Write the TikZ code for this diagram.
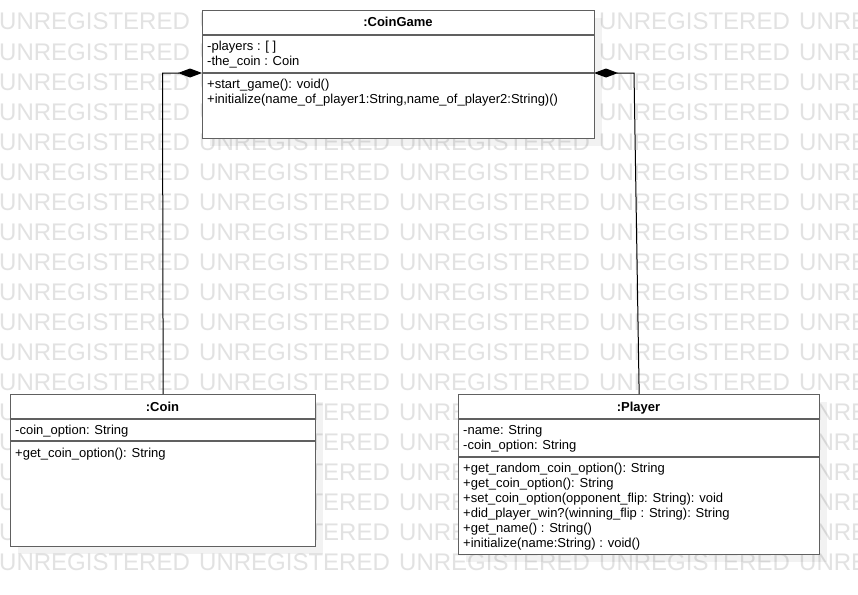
\documentclass[tikz,border=0pt]{standalone}
\usepackage{fontspec}
\setmainfont{Liberation Sans}
\usetikzlibrary{arrows.meta}
\definecolor{wm}{RGB}{226,226,226}
\definecolor{edge}{RGB}{96,96,96}
\tikzset{
  umlbox/.style={draw=edge, line width=1.3pt, fill=white, anchor=north west, inner sep=0pt},
  boxshadow/.style={fill=black, fill opacity=0.05, draw=none},
  sepline/.style={draw=edge, line width=1.3pt},
  umltitle/.style={font=\fontsize{13}{15}\selectfont\bfseries, anchor=base, inner sep=0pt},
  umltext/.style={font=\fontsize{13}{15}\selectfont, anchor=base west, inner sep=0pt},
  watermark/.style={font=\fontsize{24}{24}\selectfont, text=wm, anchor=base west, inner sep=0pt},
  compo/.style={line width=1pt, {Diamond[length=24pt,width=9pt,fill=black]}-},
}
\begin{document}
\begin{tikzpicture}[x=1pt,y=-1pt]
\useasboundingbox (0,0) rectangle (858,594);
\fill[white] (0,0) rectangle (858,594);

% tiled watermark
\foreach \r in {0,...,18}{
  \foreach \c in {0,...,4}{
    \node[watermark] (wm-\r-\c) at (200*\c-1, 30+30*\r) {UNREGISTERED};
  }
}

% soft shadows under the class boxes
\fill[boxshadow] (210,18) rectangle (602,146);
\fill[boxshadow] (18,402) rectangle (323,554);
\fill[boxshadow] (466,402) rectangle (827,562);

% class :CoinGame
\node[umlbox, minimum width=392pt, minimum height=128pt] (game) at (202,10) {};
\draw[sepline] (202,35) -- (594,35);
\draw[sepline] (202,73) -- (594,73);
\node[umltitle] (game-t) at (398,27) {:CoinGame};
\node[umltext] (game-a1) at (207,50) {-players : [ ]};
\node[umltext] (game-a2) at (207,65) {-the\_coin : Coin};
\node[umltext] (game-m1) at (207,88) {+start\_game(): void()};
\node[umltext] (game-m2) at (207,103) {+initialize(name\_of\_player1:String,name\_of\_player2:String)()};

% class :Coin
\node[umlbox, minimum width=305pt, minimum height=152pt] (coin) at (10,394) {};
\draw[sepline] (10,419) -- (315,419);
\draw[sepline] (10,441) -- (315,441);
\node[umltitle] (coin-t) at (162.5,411) {:Coin};
\node[umltext] (coin-a1) at (15,434) {-coin\_option: String};
\node[umltext] (coin-m1) at (15,457) {+get\_coin\_option(): String};

% class :Player
\node[umlbox, minimum width=361pt, minimum height=160pt] (player) at (458,394) {};
\draw[sepline] (458,419) -- (819,419);
\draw[sepline] (458,457) -- (819,457);
\node[umltitle] (player-t) at (638.5,411) {:Player};
\node[umltext] (player-a1) at (463,434) {-name: String};
\node[umltext] (player-a2) at (463,449) {-coin\_option: String};
\node[umltext] (player-m1) at (463,472) {+get\_random\_coin\_option(): String};
\node[umltext] (player-m2) at (463,487) {+get\_coin\_option(): String};
\node[umltext] (player-m3) at (463,502) {+set\_coin\_option(opponent\_flip: String): void};
\node[umltext] (player-m4) at (463,517) {+did\_player\_win?(winning\_flip : String): String};
\node[umltext] (player-m5) at (463,532) {+get\_name() : String()};
\node[umltext] (player-m6) at (463,547) {+initialize(name:String) : void()};

% composition connectors
\coordinate (gameL) at (202,73);
\coordinate (gameR) at (594,73);
\draw[compo] (gameL) -- (162.5,73) -- (coin.north);
\draw[compo] (gameR) -- (634,73) -- (player.north);
\end{tikzpicture}
\end{document}
